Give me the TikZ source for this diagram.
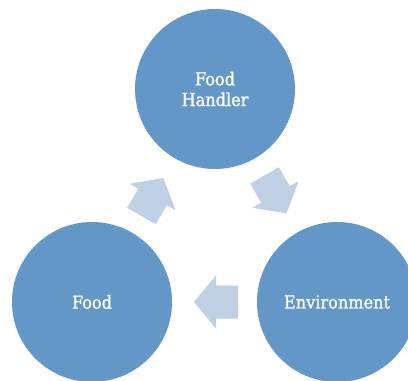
\documentclass[tikz,border=0pt]{standalone}
\usepackage{fontspec}
\setmainfont{DejaVu Serif Condensed}
\newfontfamily\lblfont[FakeBold=1.2]{DejaVu Serif Condensed}
\definecolor{circfill}{HTML}{6397C8}
\definecolor{arrfill}{HTML}{BFCFE4}
\begin{document}
\begin{tikzpicture}[x=1bp,y=1bp,
  circ/.style={circle,fill=circfill,minimum size=160bp,inner sep=0pt,
    text=white,align=center,font=\lblfont\fontsize{18}{20.7}\selectfont},
  blockarrow/.style={fill=arrfill}]
\useasboundingbox (0,0) rectangle (408,-381);
\clip (0,0) rectangle (408,-381);
\node[circ] (handler) at (215,-89) {Food\\Handler};
\node[circ] (food) at (92,-302) {Food};
\node[circ] (env) at (337,-302) {Environment};
\foreach \cx/\cy/\ang in {152.5/-197/60, 275.5/-194.5/-60, 216/-302/180}{
  \begin{scope}[shift={(\cx,\cy)},rotate=\ang]
    \fill[blockarrow] (22,0) -- (0,26.5) -- (0,16.5) -- (-22,16.5)
      -- (-22,-16.5) -- (0,-16.5) -- (0,-26.5) -- cycle;
  \end{scope}
}
\end{tikzpicture}
\end{document}
